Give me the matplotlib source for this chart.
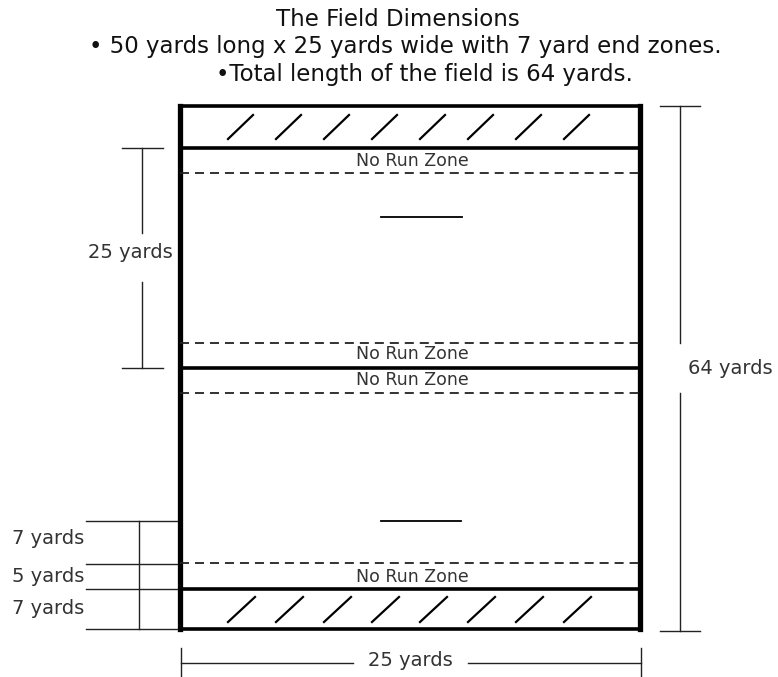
import matplotlib
matplotlib.use("Agg")
import matplotlib.pyplot as plt

# ---- data (field dimensions, in yards) ----
title_lines = [
    "The Field Dimensions",
    "\u2022 50 yards long x 25 yards wide with 7 yard end zones.",
    "\u2022Total length of the field is 64 yards.",
]
zone_label = "No Run Zone"
total_length = 64
field_width = 25
half_length = 25
end_zone = 7
no_run = 5
hatch_count = 8

# ---- layout (pixel positions of the drawing) ----
W, H = 778, 677
FX0, FX1 = 180, 640                 # field left/right edge
Y_TOP, Y_EZ1, Y_DASH1 = 106, 148, 173
Y_DASH2, Y_MID, Y_DASH3 = 343, 368, 393
Y_DASH4, Y_EZ2, Y_BOT = 563, 589, 629

fig = plt.figure(figsize=(W / 100, H / 100), dpi=100)
ax = fig.add_axes([0, 0, 1, 1])
ax.set_xlim(0, W)
ax.set_ylim(H, 0)
ax.axis("off")

FONT = ["DejaVu Sans"]
txt_col = "#333333"

# titles
for y, x, s in zip([20, 47, 74], [398, 405, 424], title_lines):
    ax.text(x, y, s, ha="center", va="center", fontsize=16.5,
            family=FONT, color="#111111")

# field outline
ax.plot([FX0, FX0], [Y_TOP, Y_BOT], color="black", lw=3.8, solid_capstyle="projecting")
ax.plot([FX1, FX1], [Y_TOP, Y_BOT], color="black", lw=3.8, solid_capstyle="projecting")
for y in [Y_TOP, Y_EZ1, Y_MID, Y_EZ2, Y_BOT]:
    ax.plot([FX0, FX1], [y, y], color="black", lw=2.6)

# no-run-zone dashed lines
for y in [Y_DASH1, Y_DASH2, Y_DASH3, Y_DASH4]:
    ax.plot([FX0, FX1], [y, y], color="#222222", lw=1.3,
            linestyle=(0, (5.0, 3.3)))

# no run zone labels
for y in [161, 354, 380, 577]:
    ax.text(412, y, zone_label, ha="center", va="center", fontsize=12.5,
            family=FONT, color=txt_col)

# end-zone hatch slashes
step = 48
for i in range(hatch_count):
    x0 = 228 + i * step
    ax.plot([x0, x0 + 25], [139, 115], color="black", lw=1.6)
    ax.plot([x0, x0 + 27], [622, 597], color="black", lw=1.6)

# centre marks
ax.plot([381, 462], [217, 217], color="black", lw=1.3)
ax.plot([381, 461], [521, 521], color="black", lw=1.3)

dim_col = "#222222"
dlw = 1.0

# left: 25 yards (half field)
ax.plot([142, 142], [Y_EZ1, 233], color=dim_col, lw=dlw)
ax.plot([142, 142], [282, Y_MID], color=dim_col, lw=dlw)
ax.plot([122, 163], [Y_EZ1, Y_EZ1], color=dim_col, lw=dlw)
ax.plot([122, 163], [Y_MID, Y_MID], color=dim_col, lw=dlw)
ax.text(130, 252, f"{half_length} yards", ha="center", va="center",
        fontsize=14, family=FONT, color=txt_col)

# right: 64 yards
ax.plot([680, 680], [Y_TOP, Y_DASH2], color=dim_col, lw=dlw)
ax.plot([680, 680], [Y_DASH3, 631], color=dim_col, lw=dlw)
ax.plot([660, 700], [Y_TOP, Y_TOP], color=dim_col, lw=dlw)
ax.plot([660, 700], [631, 631], color=dim_col, lw=dlw)
ax.text(730, 368, f"{total_length} yards", ha="center", va="center",
        fontsize=14, family=FONT, color=txt_col)

# bottom-left: 7 / 5 / 7 yards
for y in [521, 564, Y_EZ2, Y_BOT]:
    ax.plot([86, 177], [y, y], color=dim_col, lw=dlw)
ax.plot([139, 139], [521, Y_BOT], color=dim_col, lw=dlw)
for y, v in zip([538, 577, 608], [end_zone, no_run, end_zone]):
    ax.text(12, y, f"{v} yards", ha="left", va="center", fontsize=14,
            family=FONT, color=txt_col)

# bottom: 25 yards width
ax.plot([181, 181], [648, 677], color=dim_col, lw=dlw)
ax.plot([641, 641], [648, 677], color=dim_col, lw=dlw)
ax.plot([181, 353], [663, 663], color=dim_col, lw=dlw)
ax.plot([468, 641], [663, 663], color=dim_col, lw=dlw)
ax.text(410, 660, f"{field_width} yards", ha="center", va="center",
        fontsize=14, family=FONT, color=txt_col)

fig.savefig("out.png", dpi=100, facecolor="white")
